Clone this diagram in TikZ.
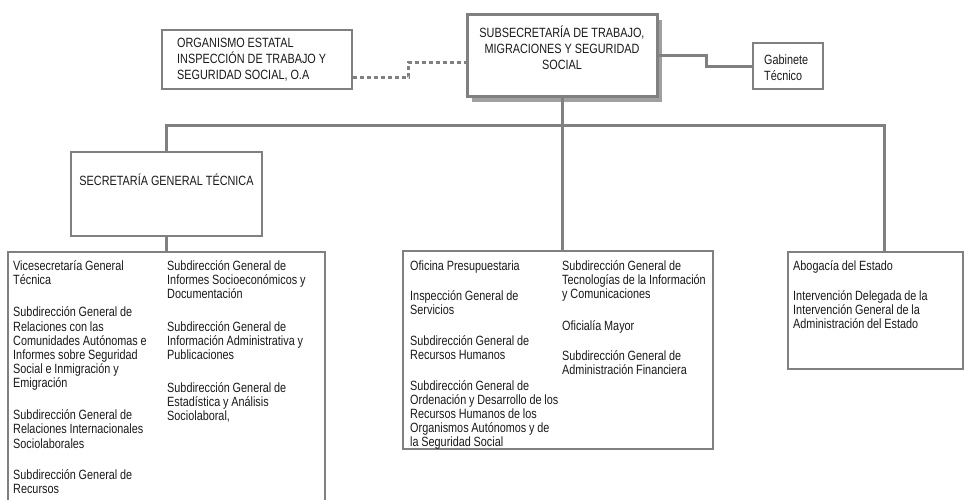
\documentclass[tikz,border=0pt]{standalone}
\usepackage{fontspec}
\setmainfont{Liberation Sans}[FakeStretch=0.81]
\usetikzlibrary{shadows}

\definecolor{linegray}{HTML}{808080}
\definecolor{txtgray}{HTML}{1a1a1a}

\tikzset{
  box/.style={draw=linegray, line width=1.2pt, fill=white, inner sep=0pt},
  headbox/.style={box, line width=3pt,
    drop shadow={shadow xshift=5pt, shadow yshift=-5pt, fill=linegray!75, opacity=1}},
  link/.style={draw=linegray, line width=3pt},
  dotlink/.style={link, dash pattern=on 4pt off 3pt},
  txt/.style={inner sep=0pt, text=txtgray, align=left, text width=#1,
    anchor=base west, font=\fontsize{13.4}{14.2}\selectfont,
    execute at begin node={\spaceskip=2.8pt\relax}},
  txt/.default=220pt,
  caps/.style={font=\fontsize{13.4}{16.4}\selectfont,
    execute at begin node={\spaceskip=3pt\relax}}
}

\begin{document}
\begin{tikzpicture}[x=1pt, y=-1pt]
  \clip (0,0) rectangle (964,499);

  % boxes
  \node[headbox, minimum width=190pt, minimum height=82pt] (sub) at (562,55.5) {};
  \node[box, minimum width=190pt, minimum height=59pt] (org) at (257,59.5) {};
  \node[box, minimum width=70pt, minimum height=46pt] (gab) at (788,66) {};
  \node[box, minimum width=191pt, minimum height=84pt] (sgt) at (166.5,194) {};
  \node[box, minimum width=317pt, minimum height=270pt] (sec) at (166.5,387) {};
  \node[box, minimum width=310pt, minimum height=198pt] (mid) at (558,350) {};
  \node[box, minimum width=175pt, minimum height=117pt] (abo) at (875.5,310.5) {};

  % connectors
  \coordinate (hub) at (562,125);
  \coordinate (jr) at (884,125);
  \draw[link] (sub.south) -- (hub);
  \draw[link] (sgt.north) |- (jr) -- (jr |- abo.north);
  \draw[link] (hub) -- (hub |- mid.north);
  \draw[link] (sgt.south) -- (sec.north);
  \draw[link] (sub.east) -- ++(48,0) |- (gab.west);
  \draw[dotlink] ([yshift=-17.5pt]org.east) -- ++(56,0) |- ([yshift=-6.5pt]sub.west);

  % texts
  \node[txt=190pt, caps, anchor=base, align=center] (subtxt) at (562,37)
    {SUBSECRETARÍA DE TRABAJO,\\MIGRACIONES Y SEGURIDAD\\SOCIAL};
  \node[txt=170pt, caps] (orgtxt) at (177,47)
    {ORGANISMO ESTATAL\\INSPECCIÓN DE TRABAJO Y\\SEGURIDAD SOCIAL, O.A};
  \node[txt=60pt, caps] (gabtxt) at (764,64) {Gabinete\\Técnico};
  \node[txt=185pt, caps, anchor=base, align=center] (sgttxt) at (166.5,185)
    {SECRETARÍA GENERAL TÉCNICA};

  \node[txt] (secA) at (13,270)
    {Vicesecretaría General\\Técnica\\[18.5pt]
     Subdirección General de\\Relaciones con las\\Comunidades Autónomas e\\Informes sobre Seguridad\\Social e Inmigración y\\Emigración\\[17.5pt]
     Subdirección General de\\Relaciones Internacionales\\Sociolaborales\\[17pt]
     Subdirección General de\\Recursos};
  \node[txt] (secB) at (167,270)
    {Subdirección General de\\Informes Socioeconómicos y\\Documentación\\[18.5pt]
     Subdirección General de\\Información Administrativa y\\Publicaciones\\[18.5pt]
     Subdirección General de\\Estadística y Análisis\\Sociolaboral,};

  \node[txt] (midA) at (410,270)
    {Oficina Presupuestaria\\[16pt]
     Inspección General de\\Servicios\\[16.5pt]
     Subdirección General de\\Recursos Humanos\\[16.5pt]
     Subdirección General de\\Ordenación y Desarrollo de los\\Recursos Humanos de los\\Organismos Autónomos y de\\la Seguridad Social};
  \node[txt] (midB) at (562,270)
    {Subdirección General de\\Tecnologías de la Información\\y Comunicaciones\\[17.5pt]
     Oficialía Mayor\\[16pt]
     Subdirección General de\\Administración Financiera};

  \node[txt=165pt] (abotxt) at (793,270)
    {Abogacía del Estado\\[16pt]
     Intervención Delegada de la\\Intervención General de la\\Administración del Estado};
\end{tikzpicture}
\end{document}
